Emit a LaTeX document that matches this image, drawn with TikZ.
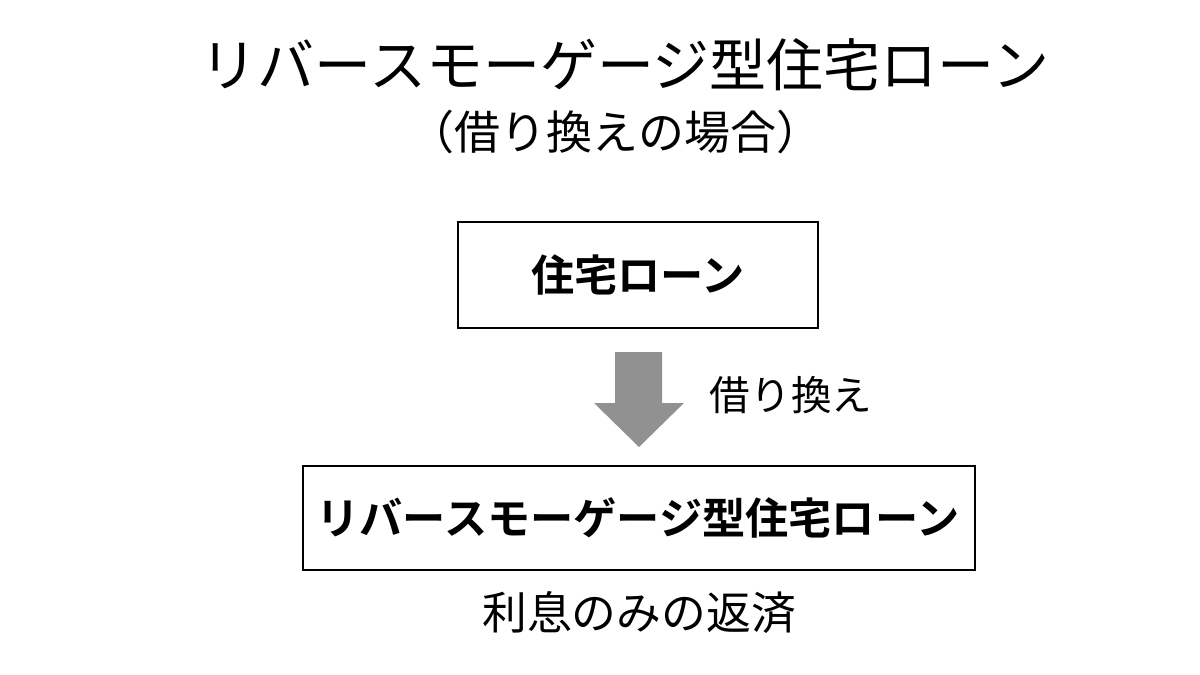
\documentclass[tikz,border=0pt]{standalone}
\usepackage{fontspec}
\setmainfont{Noto Sans CJK JP}
\newfontfamily\cjkb{Noto Sans CJK JP Bold}
\begin{document}
\begin{tikzpicture}[x=0.5pt,y=-0.5pt,
  box/.style={draw,line width=1.2pt,inner sep=0pt},
  btxt/.style={font=\cjkb\fontsize{21.6}{24}\selectfont}]
\useasboundingbox (0,0) rectangle (1200,675);
\node (title) at (625,65) {\fontsize{28.5}{32}\selectfont リバースモーゲージ型住宅ローン};
\node (sub) at (615,132) {\fontsize{23}{26}\selectfont （借り換えの場合）};
\draw[box] (458,222) rectangle (818,328);
\node[btxt] (b1) at (638,275) {住宅ローン};
\draw[box] (303,466) rectangle (975,570);
\node[btxt] (b2) at (638,518) {リバースモーゲージ型住宅ローン};
\fill[gray!85!black!75] (615,352) -- (662,352) -- (662,403) -- (684,403) -- (639,447) -- (594,403) -- (615,403) -- cycle;
\node (lab) at (791,395) {\fontsize{20.3}{23}\selectfont 借り換え};
\node (note) at (639,612) {\fontsize{22.4}{25}\selectfont 利息のみの返済};
\end{tikzpicture}
\end{document}
